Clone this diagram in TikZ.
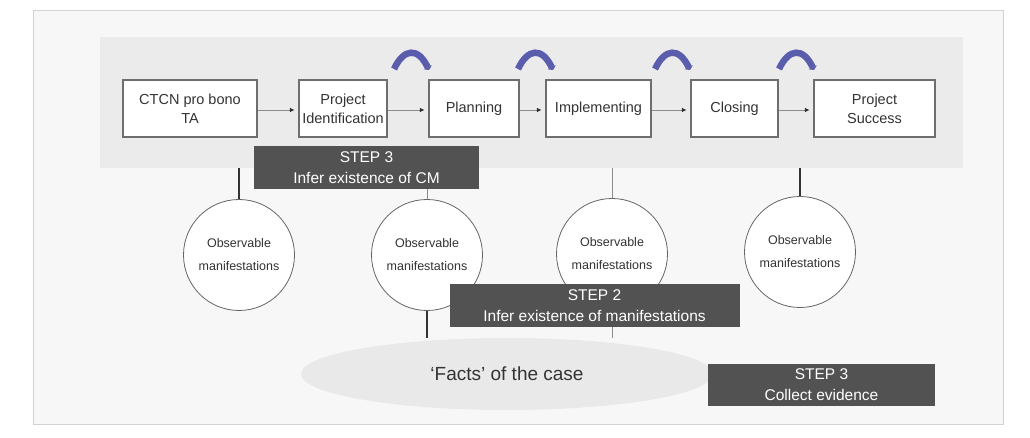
\documentclass[tikz,border=0pt]{standalone}
\usepackage{fontspec}
\setmainfont{Liberation Sans}
\usetikzlibrary{arrows.meta,shapes.geometric}
\definecolor{framebg}{HTML}{F7F7F7}
\definecolor{frameline}{HTML}{D2D2D2}
\definecolor{bandgray}{HTML}{EBEBEB}
\definecolor{boxline}{HTML}{6E6E6E}
\definecolor{darkfill}{HTML}{525252}
\definecolor{curvcol}{HTML}{5A5DAC}
\definecolor{factsfill}{HTML}{E9E9E9}
\tikzset{
  stepbox/.style={draw=boxline, fill=white, line width=1.2pt, minimum height=57pt,
    inner sep=0pt, align=center, text=black!80, font=\fontsize{14.5}{19}\selectfont},
  darkbox/.style={fill=darkfill, text=white, inner sep=0pt, minimum height=43pt,
    align=center, font=\fontsize{15.5}{21}\selectfont},
  obscircle/.style={circle, draw=black!60, fill=white, line width=0.8pt,
    minimum size=111pt, inner sep=0pt, align=center, text=black!80,
    font=\fontsize{12.5}{23}\selectfont},
  flow/.style={draw=black!45, line width=0.7pt,
    -{Latex[length=4.5pt,width=4.5pt,black!85]}, shorten >=4pt},
  curv/.style={draw=curvcol, line width=6.5pt, -{Triangle[length=3pt,width=9pt]}},
  thickline/.style={draw=black!80, line width=2pt},
  thinline/.style={draw=black!45, line width=0.8pt},
}
\begin{document}
\begin{tikzpicture}[x=1pt,y=-1pt]
\useasboundingbox (0,0) rectangle (1030,438);
\fill[white] (0,0) rectangle (1030,438);
\draw[frameline, fill=framebg, line width=1pt] (33,11) rectangle (1003,424);
\node[fill=bandgray, minimum width=863pt, minimum height=131pt, inner sep=0pt] (band) at (531.5,102.5) {};

% process boxes
\node[stepbox, minimum width=134pt] (ctcn) at (190,108.5) {CTCN pro bono\\TA};
\node[stepbox, minimum width=88pt] (pid) at (343,108.5) {Project\\Identification};
\node[stepbox, minimum width=90pt] (plan) at (474,108.5) {Planning};
\node[stepbox, minimum width=105pt] (impl) at (598.5,108.5) {Implementing};
\node[stepbox, minimum width=87pt] (clos) at (734.5,108.5) {Closing};
\node[stepbox, minimum width=121pt] (succ) at (874.5,108.5) {Project\\Success};

\draw[flow] ([yshift=-1.5pt]ctcn.east) -- ([yshift=-1.5pt]pid.west);
\draw[flow] ([yshift=-1.5pt]pid.east) -- ([yshift=-1.5pt]plan.west);
\draw[flow] ([yshift=-1.5pt]plan.east) -- ([yshift=-1.5pt]impl.west);
\draw[flow] ([yshift=-1.5pt]impl.east) -- ([yshift=-1.5pt]clos.west);
\draw[flow] ([yshift=-1.5pt]clos.east) -- ([yshift=-1.5pt]succ.west);

% curved arrows
\foreach \s in {394,518,655,779}
  \draw[curv] (\s,69) .. controls (\s+10,48) and (\s+24,47) .. (\s+35,70);

% observable manifestations circles
\node[obscircle] (c1) at (239,255) {Observable\\manifestations};
\node[obscircle] (c2) at (427,255) {Observable\\manifestations};
\node[obscircle] (c3) at (612,254) {Observable\\manifestations};
\node[obscircle] (c4) at (800,252) {Observable\\manifestations};

% STEP 3 (top)
\node[darkbox, minimum width=225pt] (s3a) at (366.5,167.5) {STEP 3\\Infer existence of CM};

% facts ellipse
\node[ellipse, fill=factsfill, minimum width=412pt, minimum height=72pt, inner sep=0pt,
  text=black!80, font=\fontsize{19}{22}\selectfont] (facts) at (507,374) {‘Facts’ of the case};

% connectors to circles
\draw[thickline] (band.south -| c1.north) -- (c1.north);
\draw[thinline] (s3a.south -| c2.north) -- (c2.north);
\draw[thinline] (band.south -| c3.north) -- (c3.north);
\draw[thickline] (band.south -| c4.north) -- (c4.north);

% STEP 2
\node[darkbox, minimum width=290pt] (s2) at (594.5,305.5) {STEP 2\\Infer existence of manifestations};

% connectors to facts
\draw[thickline] (c2.south) -- (c2.south |- facts.north);
\draw[thinline] (s2.south -| c3.south) -- (c3.south |- facts.north);

% STEP 3 (bottom)
\node[darkbox, minimum width=227pt, minimum height=42pt] (s3b) at (821.5,385) {STEP 3\\Collect evidence};
\end{tikzpicture}
\end{document}
